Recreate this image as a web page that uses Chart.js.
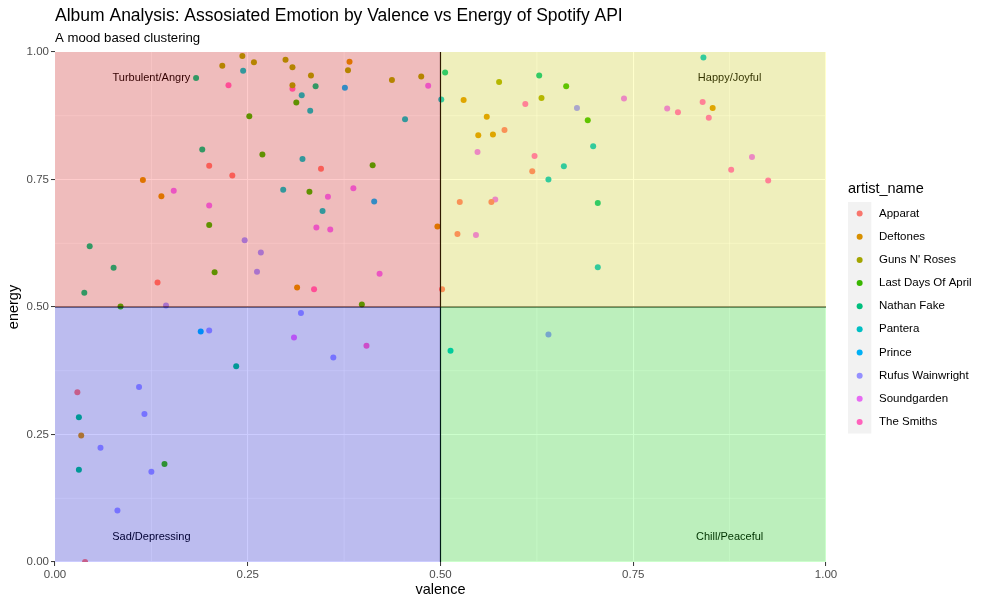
<!DOCTYPE html>
<html>
<head>
<meta charset="utf-8">
<script src="https://cdn.jsdelivr.net/npm/chart.js@4.4.1/dist/chart.umd.min.js"></script>
<style>
  html, body { margin: 0; padding: 0; background: #fff; }
</style>
</head>
<body>
<canvas id="chart" width="988" height="604"></canvas>
<script>
const artists = ["Apparat", "Deftones", "Guns N' Roses", "Last Days Of April", "Nathan Fake",
  "Pantera", "Prince", "Rufus Wainwright", "Soundgarden", "The Smiths"];
const artistColors = ["#F8766D", "#D89000", "#A3A500", "#39B600", "#00BF7D",
  "#00BFC4", "#00B0F6", "#9590FF", "#E76BF3", "#FF62BC"];

const apparatValence = [0.200, 0.230, 0.345, 0.133, 0.502, 0.583, 0.619, 0.525, 0.566, 0.522, 0.029, 0.039];
const apparatEnergy  = [0.777, 0.758, 0.771, 0.548, 0.535, 0.847, 0.766, 0.706, 0.706, 0.643, 0.333, 0.000];

const deftonesValence = [0.114, 0.382, 0.138, 0.314, 0.496, 0.530, 0.560, 0.549, 0.568, 0.853, 0.034];
const deftonesEnergy  = [0.749, 0.981, 0.717, 0.538, 0.658, 0.906, 0.873, 0.837, 0.838, 0.890, 0.248];

const gnrValence = [0.243, 0.217, 0.258, 0.299, 0.308, 0.380, 0.332, 0.308, 0.437, 0.475, 0.576, 0.631];
const gnrEnergy  = [0.992, 0.973, 0.980, 0.985, 0.970, 0.964, 0.954, 0.935, 0.945, 0.952, 0.941, 0.910];

const ldoaValence = [0.252, 0.313, 0.269, 0.412, 0.200, 0.207, 0.085, 0.330, 0.398, 0.663, 0.691, 0.142];
const ldoaEnergy  = [0.874, 0.901, 0.799, 0.778, 0.661, 0.568, 0.501, 0.726, 0.505, 0.933, 0.866, 0.192];

const nathanValence = [0.183, 0.191, 0.338, 0.045, 0.076, 0.038, 0.506, 0.628, 0.704, 0.235, 0.031, 0.031];
const nathanEnergy  = [0.949, 0.809, 0.933, 0.619, 0.577, 0.528, 0.960, 0.954, 0.704, 0.384, 0.284, 0.181];

const panteraValence = [0.244, 0.320, 0.331, 0.501, 0.454, 0.321, 0.296, 0.347, 0.841, 0.698, 0.660, 0.640, 0.704, 0.513];
const panteraEnergy  = [0.963, 0.915, 0.885, 0.907, 0.868, 0.790, 0.730, 0.688, 0.989, 0.815, 0.776, 0.750, 0.578, 0.414];

const princeValence = [0.376, 0.414, 0.189];
const princeEnergy  = [0.930, 0.707, 0.452];

const rufusValence = [0.246, 0.144, 0.267, 0.262, 0.319, 0.200, 0.361, 0.109, 0.116, 0.059, 0.125, 0.081, 0.677, 0.640];
const rufusEnergy  = [0.631, 0.503, 0.607, 0.569, 0.488, 0.454, 0.401, 0.343, 0.290, 0.224, 0.177, 0.101, 0.890, 0.446];

const soundgardenValence = [0.484, 0.154, 0.200, 0.354, 0.387, 0.339, 0.357, 0.421, 0.310, 0.548, 0.738, 0.571, 0.546, 0.794, 0.904];
const soundgardenEnergy  = [0.934, 0.728, 0.699, 0.716, 0.733, 0.656, 0.652, 0.565, 0.440, 0.804, 0.909, 0.711, 0.641, 0.889, 0.794];

const smithsValence = [0.225, 0.308, 0.336, 0.610, 0.622, 0.808, 0.840, 0.848, 0.877, 0.925, 0.404];
const smithsEnergy  = [0.935, 0.928, 0.535, 0.898, 0.796, 0.882, 0.902, 0.871, 0.769, 0.748, 0.424];

const tickValues = [0, 0.25, 0.5, 0.75, 1];
const tickLabels = ["0.00", "0.25", "0.50", "0.75", "1.00"];
const minorValues = [0.125, 0.375, 0.625, 0.875];

const quadrantNames = ["Turbulent/Angry", "Happy/Joyful", "Sad/Depressing", "Chill/Peaceful"];
const quadrantLabelX = [0.125, 0.875, 0.125, 0.875];
const quadrantLabelY = [0.95, 0.95, 0.05, 0.05];

const series = [
  [apparatValence, apparatEnergy], [deftonesValence, deftonesEnergy], [gnrValence, gnrEnergy],
  [ldoaValence, ldoaEnergy], [nathanValence, nathanEnergy], [panteraValence, panteraEnergy],
  [princeValence, princeEnergy], [rufusValence, rufusEnergy],
  [soundgardenValence, soundgardenEnergy], [smithsValence, smithsEnergy]
];

const FONT = "'Liberation Sans', Arial, Helvetica, sans-serif";

const datasets = artists.map((name, i) => ({
  label: name,
  data: series[i][0].map((v, j) => ({ x: v, y: series[i][1][j] })),
  backgroundColor: artistColors[i],
  borderWidth: 0,
  pointRadius: 3,
}));

// panel background + minor grid, below chart.js major grid
const panelPlugin = {
  id: "panel",
  beforeDraw(chart) {
    const { ctx, chartArea: a, scales } = chart;
    ctx.save();
    ctx.fillStyle = "#fff";
    ctx.fillRect(0, 0, chart.width, chart.height);
    ctx.fillStyle = "#EBEBEB";
    ctx.fillRect(a.left, a.top, a.right - a.left, a.bottom - a.top);
    ctx.strokeStyle = "#fff";
    ctx.lineWidth = 0.55;
    minorValues.forEach(v => {
      const px = scales.x.getPixelForValue(v);
      const py = scales.y.getPixelForValue(v);
      ctx.beginPath(); ctx.moveTo(px, a.top); ctx.lineTo(px, a.bottom); ctx.stroke();
      ctx.beginPath(); ctx.moveTo(a.left, py); ctx.lineTo(a.right, py); ctx.stroke();
    });
    ctx.restore();
  },
  afterDatasetsDraw(chart) {
    const { ctx, chartArea: a, scales } = chart;
    const mx = scales.x.getPixelForValue(0.5);
    const my = scales.y.getPixelForValue(0.5);
    ctx.save();
    // reference lines and labels (under the tinted rectangles)
    ctx.strokeStyle = "#000";
    ctx.lineWidth = 1.2;
    ctx.beginPath(); ctx.moveTo(mx, a.top); ctx.lineTo(mx, a.bottom); ctx.stroke();
    ctx.beginPath(); ctx.moveTo(a.left, my); ctx.lineTo(a.right, my); ctx.stroke();
    ctx.fillStyle = "#000";
    ctx.font = "11px " + FONT;
    ctx.textAlign = "center";
    ctx.textBaseline = "middle";
    quadrantNames.forEach((t, i) => {
      ctx.fillText(t, scales.x.getPixelForValue(quadrantLabelX[i]), scales.y.getPixelForValue(quadrantLabelY[i]));
    });
    // quadrant rectangles
    ctx.fillStyle = "rgba(255,0,0,0.2)";
    ctx.fillRect(a.left, a.top, mx - a.left, my - a.top);
    ctx.fillStyle = "rgba(255,255,0,0.2)";
    ctx.fillRect(mx, a.top, a.right - mx, my - a.top);
    ctx.fillStyle = "rgba(0,0,255,0.2)";
    ctx.fillRect(a.left, my, mx - a.left, a.bottom - my);
    ctx.fillStyle = "rgba(0,255,0,0.2)";
    ctx.fillRect(mx, my, a.right - mx, a.bottom - my);
    ctx.restore();
  },
  afterDraw(chart) {
    const { ctx, chartArea: a } = chart;
    ctx.save();
    ctx.fillStyle = "#000";
    ctx.textAlign = "left";
    ctx.textBaseline = "alphabetic";
    ctx.font = "17.5px " + FONT;
    ctx.fillText("Album Analysis: Assosiated Emotion by Valence vs Energy of Spotify API", 55, 21);
    ctx.font = "13.2px " + FONT;
    ctx.fillText("A mood based clustering", 55, 42);

    // axis titles
    ctx.font = "14.5px " + FONT;
    ctx.textAlign = "center";
    ctx.textBaseline = "middle";
    ctx.fillText("valence", (a.left + a.right) / 2, 590);
    ctx.save();
    ctx.translate(14, (a.top + a.bottom) / 2);
    ctx.rotate(-Math.PI / 2);
    ctx.fillText("energy", 0, 0);
    ctx.restore();

    // legend
    const lx = 848, ly = 202, kw = 23.3, kh = 23.15;
    ctx.textAlign = "left";
    ctx.font = "14.5px " + FONT;
    ctx.fillText("artist_name", lx, 189);
    ctx.fillStyle = "#F2F2F2";
    ctx.fillRect(lx, ly, kw, kh * artists.length);
    ctx.font = "11.5px " + FONT;
    artists.forEach((name, i) => {
      const cy = ly + kh * (i + 0.5);
      ctx.fillStyle = artistColors[i];
      ctx.beginPath(); ctx.arc(lx + kw / 2, cy, 3, 0, Math.PI * 2); ctx.fill();
      ctx.fillStyle = "#000";
      ctx.fillText(name, 879, cy);
    });
    ctx.restore();
  }
};

const axisCommon = {
  type: "linear",
  min: 0,
  max: 1,
  border: { display: false },
  grid: { color: "#fff", lineWidth: 1.1, tickColor: "#333", tickLength: 4, tickWidth: 1 },
  afterBuildTicks: s => { s.ticks = tickValues.map(v => ({ value: v })); },
  ticks: {
    color: "#4D4D4D",
    font: { family: FONT, size: 11.5 },
    padding: 2,
    autoSkip: false,
    maxRotation: 0,
    callback: (v, i) => tickLabels[i],
  },
};

new Chart(document.getElementById("chart"), {
  type: "scatter",
  data: { datasets },
  options: {
    responsive: false,
    animation: false,
    layout: { padding: { top: 52, right: 162, bottom: 0, left: 0 } },
    plugins: { legend: { display: false }, tooltip: { enabled: false }, title: { display: false } },
    scales: {
      x: { ...axisCommon, afterFit: s => { s.height = 42; } },
      y: { ...axisCommon, afterFit: s => { s.width = 55; } },
    },
  },
  plugins: [panelPlugin],
});
</script>
</body>
</html>
